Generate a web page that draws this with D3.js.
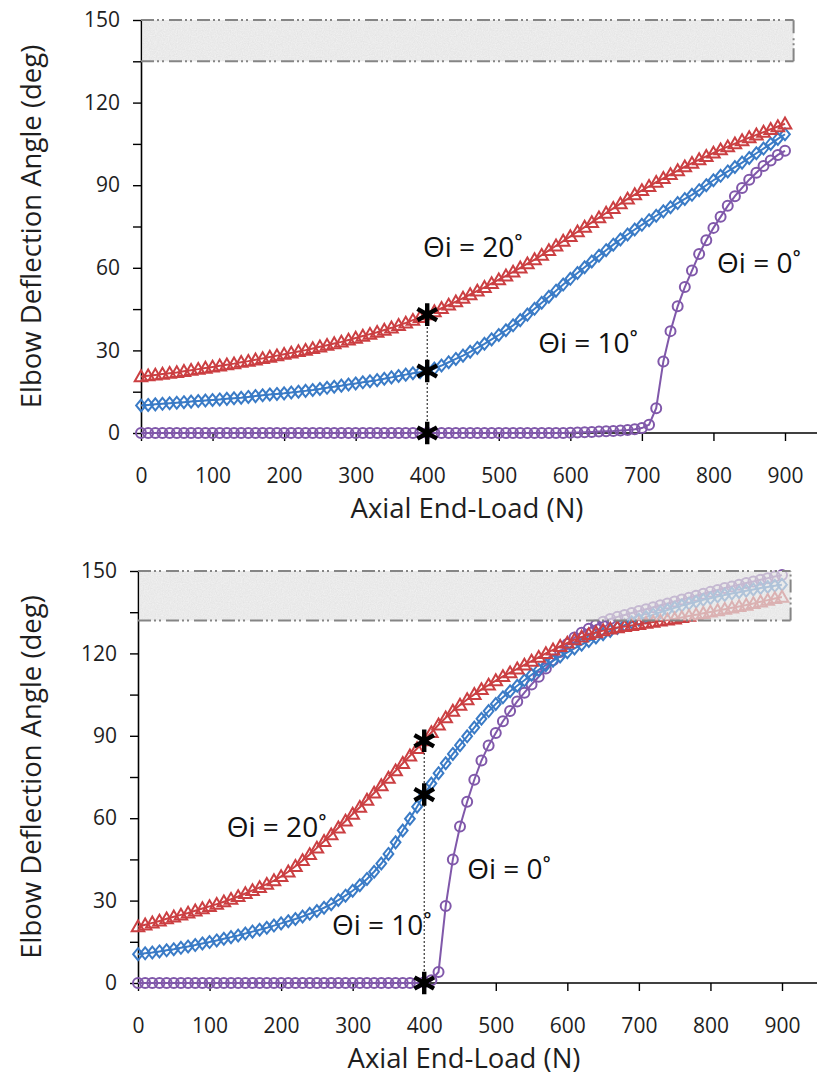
<!DOCTYPE html>
<html>
<head>
<meta charset="utf-8">
<script src="https://cdn.jsdelivr.net/npm/d3@7"></script>
<style>
  body { margin: 0; background: #fff; }
  svg { display: block; font-family: "Open Sans", "Noto Sans", sans-serif; }
</style>
</head>
<body>
<svg id="chart"></svg>
<script>
// Axial end-load (N), one marker every 10 N
const loadN = [0,10,20,30,40,50,60,70,80,90,100,110,120,130,140,150,160,170,180,190,
  200,210,220,230,240,250,260,270,280,290,300,310,320,330,340,350,360,370,380,390,
  400,410,420,430,440,450,460,470,480,490,500,510,520,530,540,550,560,570,580,590,
  600,610,620,630,640,650,660,670,680,690,700,710,720,730,740,750,760,770,780,790,
  800,810,820,830,840,850,860,870,880,890,900];

// Top panel - elbow deflection (deg)
const topDeg20 = [20.5,20.8,21.1,21.4,21.7,22.0,22.4,22.8,23.2,23.6,
  24.0,24.4,24.8,25.2,25.7,26.1,26.6,27.1,27.6,28.1,
  28.6,29.1,29.6,30.1,30.7,31.3,31.9,32.5,33.1,33.8,
  34.5,35.2,35.9,36.6,37.4,38.2,39.1,40.0,41.0,42.0,
  43.0,44.1,45.3,46.5,47.7,49.0,50.3,51.6,52.9,54.3,
  55.7,57.1,58.5,60.0,61.5,63.0,64.6,66.3,68.0,69.7,
  71.4,73.1,74.8,76.5,78.2,79.9,81.6,83.3,85.0,86.6,
  88.1,89.6,91.1,92.5,93.9,95.3,96.7,98.0,99.3,100.5,
  101.7,102.9,104.0,105.1,106.2,107.3,108.3,109.3,110.3,111.3,
  112.3];
const topDeg10 = [10.0,10.2,10.4,10.6,10.8,11.0,11.2,11.4,11.6,11.8,
  12.0,12.2,12.4,12.6,12.8,13.1,13.4,13.7,14.0,14.2,
  14.4,14.7,15.0,15.3,15.6,16.0,16.4,16.8,17.2,17.6,
  18.0,18.4,18.8,19.2,19.7,20.2,20.7,21.2,21.7,22.1,
  22.5,23.4,24.5,25.7,26.9,28.1,29.5,30.9,32.4,34.0,
  35.6,37.3,39.1,41.0,43.0,45.1,47.3,49.5,51.7,53.9,
  56.0,58.1,60.2,62.3,64.4,66.4,68.4,70.3,72.1,73.9,
  75.6,77.3,78.9,80.5,82.0,83.5,85.0,86.5,88.2,90.0,
  91.8,93.4,95.0,96.6,98.2,99.9,101.6,103.3,105.0,106.8,
  108.5];
const topDeg0 = [0,0,0,0,0,0,0,0,0,0, 0,0,0,0,0,0,0,0,0,0,
  0,0,0,0,0,0,0,0,0,0, 0,0,0,0,0,0,0,0,0,0,
  0,0,0,0,0,0,0,0,0,0, 0,0,0,0,0,0,0,0,0,0,
  0.1,0.2,0.3,0.4,0.5,0.6,0.7,0.9,1.1,1.4,
  1.8,3.0,9.0,26.0,37.0,46.0,53.0,59.0,65.0,70.0,
  74.5,78.5,82.5,86.0,89.0,92.0,94.5,97.0,99.0,101.0,
  102.5];

// Bottom panel - elbow deflection (deg)
const botDeg20 = [20.5,21.2,21.9,22.6,23.4,24.1,24.8,25.5,26.3,27.1,
  27.9,28.7,29.6,30.5,31.5,32.6,33.7,34.8,36.0,37.3,
  38.8,40.5,42.5,44.6,46.8,49.2,51.6,54.0,56.5,59.0,
  61.5,64.0,66.6,69.2,71.9,74.6,77.3,80.0,82.7,85.4,
  88.2,91.2,94.0,96.6,99.0,101.2,103.2,105.1,106.9,108.5,
  110.1,111.6,113.0,114.4,115.8,117.2,118.6,120.0,121.3,122.6,
  123.8,125.0,126.0,126.9,127.6,128.3,128.9,129.4,129.8,130.2,
  130.6,131.0,131.4,131.8,132.2,132.6,133.1,133.6,134.1,134.6,
  135.1,135.6,136.1,136.6,137.1,137.6,138.2,138.8,139.4,140.0,
  140.5];
const botDeg10 = [10.5,10.8,11.1,11.5,11.9,12.3,12.8,13.3,13.8,14.4,
  14.9,15.5,16.1,16.7,17.3,18.0,18.7,19.4,20.1,20.9,
  21.7,22.5,23.3,24.2,25.2,26.2,27.4,28.7,30.2,31.8,
  33.6,35.6,37.9,40.5,43.5,47.0,51.2,55.5,59.8,64.2,
  68.6,72.6,76.4,80.0,83.4,86.6,89.8,93.0,96.2,99.0,
  101.6,104.0,106.2,108.2,110.2,112.2,114.0,115.7,117.3,118.9,
  120.4,121.8,123.2,124.5,125.8,127.0,128.2,129.3,130.3,131.3,
  132.3,133.2,134.1,135.0,135.8,136.6,137.4,138.1,138.8,139.5,
  140.1,140.7,141.3,141.8,142.3,142.8,143.3,143.8,144.2,144.6,
  145.0];
const botDeg0 = [0,0,0,0,0,0,0,0,0,0, 0,0,0,0,0,0,0,0,0,0,
  0,0,0,0,0,0,0,0,0,0, 0,0,0,0,0,0,0,0,0,0,
  0.3,1.0,4.0,28.0,45.0,57.0,66.0,74.0,81.0,86.5,
  91.0,95.3,99.0,102.5,105.7,108.7,111.5,114.5,117.5,120.5,
  123.4,125.8,127.5,129.0,130.3,131.5,132.5,133.3,134.0,134.7,
  135.4,136.1,136.8,137.5,138.2,138.9,139.6,140.3,141.0,141.7,
  142.4,143.1,143.8,144.4,145.0,145.6,146.2,146.8,147.4,148.0,
  148.5];

// Starred readings at 400 N
const starLoad = 400;
const topStars = [43.0, 22.5, 0];
const botStars = [88.2, 68.6, 0];

// Shaded band (deg) and its load extent
const topBand = [135, 150];
const botBand = [132, 150];
const bandLoad = 912;

const xTicks = [0,100,200,300,400,500,600,700,800,900];
const yTicks = [0,15,30,45,60,75,90,105,120,135,150];

const topLabels = [
  { text: 'Θi = 20˚', load: 394, deg: 64 },
  { text: 'Θi = 10˚', load: 555, deg: 29 },
  { text: 'Θi = 0˚', load: 805, deg: 58 }
];
const botLabels = [
  { text: 'Θi = 20˚', load: 124, deg: 53 },
  { text: 'Θi = 10˚', load: 271, deg: 17.5 },
  { text: 'Θi = 0˚', load: 460, deg: 38 }
];

const width = 817, height = 1081;
const colors = { d20: '#cb3f42', d10: '#3a7bc6', d0: '#8058aa' };

const svg = d3.select('#chart')
  .attr('width', width)
  .attr('height', height);

svg.append('rect').attr('width', width).attr('height', height).attr('fill', '#fff');

// grainy fill for the shaded band
const grain = svg.append('defs').append('filter').attr('id', 'grain')
  .attr('x', 0).attr('y', 0).attr('width', 1).attr('height', 1);
grain.append('feTurbulence')
  .attr('type', 'fractalNoise').attr('baseFrequency', 0.85)
  .attr('numOctaves', 2).attr('seed', 4).attr('result', 'noise');
grain.append('feColorMatrix')
  .attr('in', 'noise').attr('type', 'matrix')
  .attr('values', '0 0 0 0 0.6  0 0 0 0 0.6  0 0 0 0 0.6  0 0 0 0.45 0')
  .attr('result', 'gray');
grain.append('feComposite').attr('in', 'gray').attr('in2', 'SourceGraphic').attr('operator', 'in');

// diamond taller than wide, like the reference markers
const diamond = {
  draw(ctx, size) {
    const h = Math.sqrt(size) * 0.62, w = h * 0.82;
    ctx.moveTo(0, -h); ctx.lineTo(w, 0); ctx.lineTo(0, h); ctx.lineTo(-w, 0); ctx.closePath();
  }
};

function drawPanel(p) {
  const x = d3.scaleLinear().domain([0, 900]).range(p.xRange);
  const y = d3.scaleLinear().domain([0, 150]).range(p.yRange);
  const g = svg.append('g');

  // y axis
  const yAxis = g.append('g')
    .attr('transform', `translate(${x(0)},0)`)
    .call(d3.axisLeft(y).tickValues(yTicks).tickSize(8).tickSizeOuter(0).tickPadding(13)
      .tickFormat(d => d % 30 === 0 ? d : ''));
  yAxis.select('.domain').attr('stroke', '#000').attr('stroke-width', 1.6);
  yAxis.selectAll('.tick line').attr('stroke', '#000').attr('stroke-width', 1.4);
  yAxis.selectAll('text').attr('font-size', 21).attr('fill', '#1e1e1e')
    .attr('font-family', '"Open Sans", sans-serif');

  // x axis, its line runs on to the page edge
  const xAxis = g.append('g')
    .attr('transform', `translate(0,${y(0)})`)
    .call(d3.axisBottom(x).tickValues(xTicks).tickSize(8).tickSizeOuter(0).tickPadding(27));
  xAxis.select('.domain').remove();
  xAxis.append('line')
    .attr('x1', x(0)).attr('x2', width)
    .attr('stroke', '#000').attr('stroke-width', 1.6);
  xAxis.selectAll('.tick line').attr('stroke', '#000').attr('stroke-width', 1.4);
  xAxis.selectAll('text').attr('font-size', 21).attr('fill', '#1e1e1e')
    .attr('font-family', '"Open Sans", sans-serif');

  // axis titles
  g.append('text')
    .attr('transform', `translate(41,${(y(0) + y(150)) / 2}) rotate(-90)`)
    .attr('text-anchor', 'middle')
    .attr('font-size', 27.5)
    .attr('fill', '#1e1e1e')
    .text('Elbow Deflection Angle (deg)');
  g.append('text')
    .attr('x', (x(0) + x(900)) / 2 + 4)
    .attr('y', y(0) + 85)
    .attr('text-anchor', 'middle')
    .attr('font-size', 27.5)
    .attr('fill', '#1e1e1e')
    .text('Axial End-Load (N)');

  // series: purple first, red on top
  const series = [
    { vals: p.d0, color: colors.d0, shape: 'circle' },
    { vals: p.d10, color: colors.d10, shape: 'diamond' },
    { vals: p.d20, color: colors.d20, shape: 'triangle' }
  ];
  const line = d3.line().x((d, i) => x(loadN[i])).y(d => y(d));

  series.forEach(s => {
    const sg = g.append('g');
    sg.append('path')
      .datum(s.vals)
      .attr('d', line)
      .attr('fill', 'none')
      .attr('stroke', s.color)
      .attr('stroke-width', 2);

    const pts = s.vals.map((v, i) => [loadN[i], v]);
    if (s.shape === 'circle') {
      sg.selectAll('circle').data(pts).enter().append('circle')
        .attr('cx', d => x(d[0])).attr('cy', d => y(d[1]))
        .attr('r', 5)
        .attr('fill', 'none')
        .attr('stroke', s.color)
        .attr('stroke-width', 2);
    } else {
      const sym = d3.symbol()
        .type(s.shape === 'triangle' ? d3.symbolTriangle : diamond)
        .size(s.shape === 'triangle' ? 68 : 92);
      sg.selectAll('path.mk').data(pts).enter().append('path')
        .attr('class', 'mk')
        .attr('transform', d => `translate(${x(d[0])},${y(d[1]) + (s.shape === 'triangle' ? 1 : 0)})`)
        .attr('d', sym)
        .attr('fill', 'none')
        .attr('stroke', s.color)
        .attr('stroke-width', 2);
    }
  });

  // shaded band, drawn over the curves
  const band = g.append('g');
  const bx = x(0) + 1, by = y(p.band[1]);
  const bw = x(bandLoad) - x(0) - 1, bh = y(p.band[0]) - y(p.band[1]);
  band.append('rect')
    .attr('x', bx).attr('y', by).attr('width', bw).attr('height', bh)
    .attr('fill', '#ececec')
    .attr('opacity', 0.62);
  band.append('rect')
    .attr('x', bx).attr('y', by).attr('width', bw).attr('height', bh)
    .attr('fill', '#fff')
    .attr('filter', 'url(#grain)');
  const dash = '13,3,2,3,2,5';
  [[0, p.band[1], bandLoad, p.band[1]], [0, p.band[0], bandLoad, p.band[0]],
   [bandLoad, p.band[0], bandLoad, p.band[1]]].forEach(l => {
    band.append('line')
      .attr('x1', x(l[0])).attr('y1', y(l[1]))
      .attr('x2', x(l[2])).attr('y2', y(l[3]))
      .attr('stroke', '#858585')
      .attr('stroke-width', 2)
      .attr('stroke-dasharray', dash);
  });

  // dotted guide and stars at 400 N
  g.append('line')
    .attr('x1', x(starLoad)).attr('x2', x(starLoad))
    .attr('y1', y(0)).attr('y2', y(d3.max(p.stars)))
    .attr('stroke', '#222')
    .attr('stroke-width', 1.1)
    .attr('stroke-dasharray', '2,2');
  const star = d3.symbol().type(d3.symbolAsterisk || d3.symbolCross).size(360);
  g.selectAll('path.star').data(p.stars).enter().append('path')
    .attr('class', 'star')
    .attr('transform', d => `translate(${x(starLoad)},${y(d)})`)
    .attr('d', star)
    .attr('fill', 'none')
    .attr('stroke', '#000')
    .attr('stroke-width', 4.4);

  // curve labels
  g.selectAll('text.lab').data(p.labels).enter().append('text')
    .attr('class', 'lab')
    .attr('x', d => x(d.load))
    .attr('y', d => y(d.deg))
    .attr('font-size', 28)
    .attr('fill', '#111')
    .text(d => d.text);
}

drawPanel({
  xRange: [141, 785], yRange: [433, 20],
  d20: topDeg20, d10: topDeg10, d0: topDeg0,
  stars: topStars, band: topBand, labels: topLabels
});
drawPanel({
  xRange: [138, 782], yRange: [983, 571],
  d20: botDeg20, d10: botDeg10, d0: botDeg0,
  stars: botStars, band: botBand, labels: botLabels
});
</script>
</body>
</html>
